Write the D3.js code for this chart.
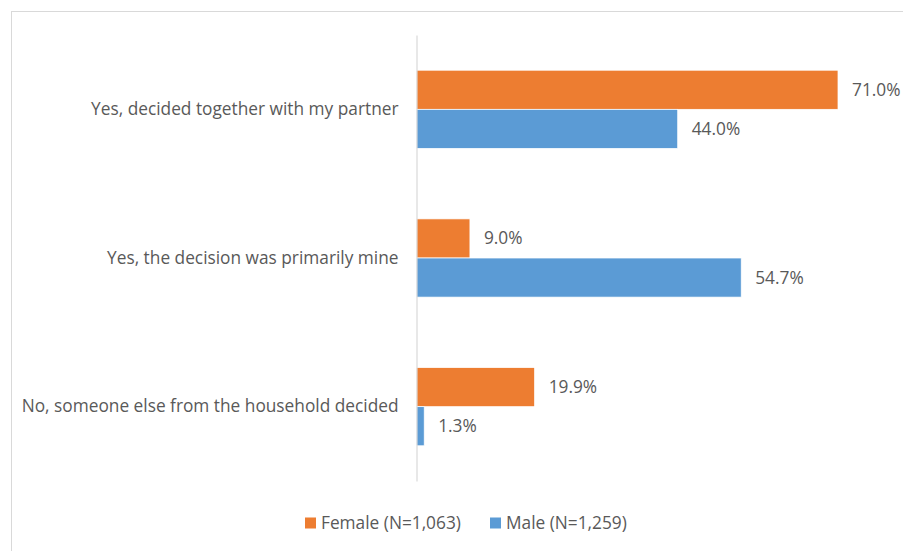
<!DOCTYPE html>
<html><head><meta charset="utf-8">
<script src="https://cdn.jsdelivr.net/npm/d3@7"></script>
<style>html,body{margin:0;padding:0;background:#fff;}svg{display:block;}</style>
</head><body>
<svg id="chart" width="903" height="551"></svg>
<script>
const categories = ["Yes, decided together with my partner", "Yes, the decision was primarily mine", "No, someone else from the household decided"];
const seriesNames = ["Female (N=1,063)", "Male (N=1,259)"];
const female = [71.0, 9.0, 19.9];
const male = [44.0, 54.7, 1.3];
const colors = ["#ED7D31", "#5B9BD5"];

(function(){
const svg = d3.select("#chart");
const W = 903, H = 551;
const font = "'Open Sans', sans-serif";
const fs = 17.3;
const textColor = "#595959";

// chart border
svg.append("rect").attr("x", 11.5).attr("y", 11.5).attr("width", W + 10).attr("height", H + 10)
  .attr("fill", "none").attr("stroke", "#d9d9d9").attr("stroke-width", 1);

const x0 = 416.5, plotTop = 35, plotBottom = 481;
const x = d3.scaleLinear().domain([0, 71]).range([x0, 838]);
const y = d3.scaleBand().domain(categories).range([plotTop, plotBottom]);
const inner = d3.scaleBand().domain(seriesNames).range([0, y.bandwidth()]).paddingOuter(0.9).paddingInner(0);

const data = categories.map((c, i) => ({cat: c, vals: [female[i], male[i]]}));

const g = svg.append("g");
data.forEach(d => {
  d.vals.forEach((v, j) => {
    const by = y(d.cat) + inner(seriesNames[j]);
    g.append("rect").attr("x", x(0)).attr("y", by).attr("width", x(v) - x(0)).attr("height", inner.bandwidth())
      .attr("fill", colors[j]).attr("stroke", "#fff").attr("stroke-width", 0.75);
    g.append("text").attr("x", x(v) + 14).attr("y", by + inner.bandwidth() / 2)
      .attr("dy", "0.35em").attr("font-family", font).attr("font-size", fs).attr("fill", textColor)
      .text(d3.format(".1f")(v) + "%");
  });
});

// category axis
const axis = d3.axisLeft(y).tickSize(0).tickPadding(18);
const ag = svg.append("g").attr("transform", `translate(${x0},0)`).call(axis);
ag.select(".domain").attr("stroke", "#d9d9d9").attr("stroke-width", 1.2);
ag.selectAll("text").attr("font-family", font).attr("font-size", fs).attr("fill", textColor);

// legend
const legend = svg.append("g");
const lx = [305, 490];
seriesNames.forEach((s, i) => {
  legend.append("rect").attr("x", lx[i]).attr("y", 517.5).attr("width", 11).attr("height", 11).attr("fill", colors[i]);
  legend.append("text").attr("x", lx[i] + 16).attr("y", 523).attr("dy", "0.35em")
    .attr("font-family", font).attr("font-size", fs).attr("fill", textColor).text(s);
});
})();
</script>
</body></html>
